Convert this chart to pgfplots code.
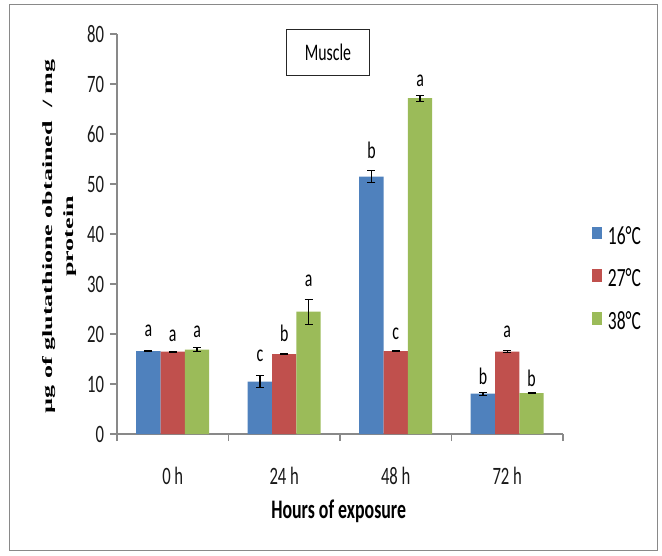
\documentclass[border=0pt]{standalone}
\usepackage{fontspec}
\setmainfont{Carlito}
\newfontfamily\ser{Liberation Serif}
\usepackage{graphicx}
\usepackage{pgfplots}
\usepackage{pgfplotstable}
\pgfplotsset{compat=1.18}
\definecolor{cb}{HTML}{4F81BD}
\definecolor{cr}{HTML}{C0504D}
\definecolor{cg}{HTML}{9BBB59}
\definecolor{ax}{HTML}{898989}
\newcommand\st[1]{\scalebox{1}[1.5]{#1}}
\newcommand\sx[1]{\scalebox{1.84}[1]{#1}}

\pgfplotstableread{
x y err lab ly
0 16.6 0.15 a 19.46
1 10.5 1.2 c 14.46
2 51.5 1.2 b 55.1
3 8.1 0.3 b 10.0
}\tblue
\pgfplotstableread{
x y err lab ly
0 16.5 0.1 a 18.46
1 16.0 0.1 b 18.46
2 16.6 0.15 c 18.9
3 16.5 0.2 a 19.3
}\tred
\pgfplotstableread{
x y err lab ly
0 16.9 0.35 a 19.3
1 24.5 2.5 a 29.46
2 67.2 0.6 a 69.5
3 8.2 0.1 b 9.6
}\tgreen

\begin{document}
\begin{tikzpicture}
\useasboundingbox (0,0) rectangle (397.2pt,333pt);
\draw[ax, line width=0.6pt] (5.4pt,3pt) rectangle (394.2pt,330pt);
\begin{axis}[
  at={(70.2pt,72.6pt)}, anchor=south west,
  width=267.6pt, height=240pt, scale only axis, clip=false,
  ybar=0pt, bar width=14.6pt,
  xmin=-0.5, xmax=3.5, ymin=0, ymax=80, ytick distance=10,
  xtick={-0.5,0.5,1.5,2.5,3.5}, xticklabels={,,,,},
  extra x ticks={0,1,2,3},
  extra x tick labels={{\st{0 h}},{\st{24 h}},{\st{48 h}},{\st{72 h}}},
  extra x tick style={tick style={draw=none}},
  axis x line*=bottom, axis y line*=left,
  axis line style={ax, line width=0.8pt, -},
  tick style={ax, line width=0.8pt},
  tick align=outside, major tick length=4.2pt,
  yticklabel={\st{\pgfmathprintnumber[assume math mode=true]{\tick}}},
  ticklabel style={font=\fontsize{10}{12}\selectfont, text=black!90},
  xticklabel style={yshift=-12pt},
  xlabel={\st{Hours of exposure}},
  xlabel style={font=\bfseries\fontsize{10.7}{12}\selectfont, at={(axis description cs:0.497,-0.1925)}, anchor=center},
  ylabel={\sx{\begin{tabular}{@{}c@{}}µg of glutathione obtained\ \ / mg\\protein\end{tabular}}},
  ylabel style={font=\ser\bfseries\fontsize{8.5}{12.6}\selectfont, inner sep=0pt, at={(axis description cs:-0.131,0.494)}, anchor=center},
  legend style={at={(1.065,0.3875)}, anchor=west, draw=none, fill=none, inner sep=0pt, row sep=13.3pt, column sep=3.4pt, font=\fontsize{10.5}{12}\selectfont, nodes={inner sep=0pt}},
  legend cell align=left,
  legend image code/.code={\fill[#1] (0pt,-1.8pt) rectangle (6pt,5.8pt);},
  point meta=explicit symbolic,
  visualization depends on={(\thisrow{ly}-\thisrow{y})*3 \as \dly},
  nodes near coords={\st{\pgfplotspointmeta}},
  every node near coord/.append style={anchor=base, inner sep=0pt, yshift=\dly pt, font=\fontsize{9.5}{11}\selectfont, text=black},
  error bars/y dir=both, error bars/y explicit,
  error bars/error bar style={black, line width=0.8pt, mark size=2.4pt},
]
\addplot[fill=cb, draw=none] table[x=x, y=y, y error=err, meta=lab]{\tblue};
\addlegendentry{\st{16°C}}
\addplot[fill=cr, draw=none] table[x=x, y=y, y error=err, meta=lab]{\tred};
\addlegendentry{\st{27°C}}
\addplot[fill=cg, draw=none] table[x=x, y=y, y error=err, meta=lab]{\tgreen};
\addlegendentry{\st{38°C}}
\node[draw=black!85, line width=0.7pt, minimum width=49.6pt, minimum height=28pt, font=\fontsize{9.5}{11}\selectfont, fill=white] at (rel axis cs:0.473,0.954) {\st{Muscle}};
\end{axis}
\end{tikzpicture}
\end{document}
